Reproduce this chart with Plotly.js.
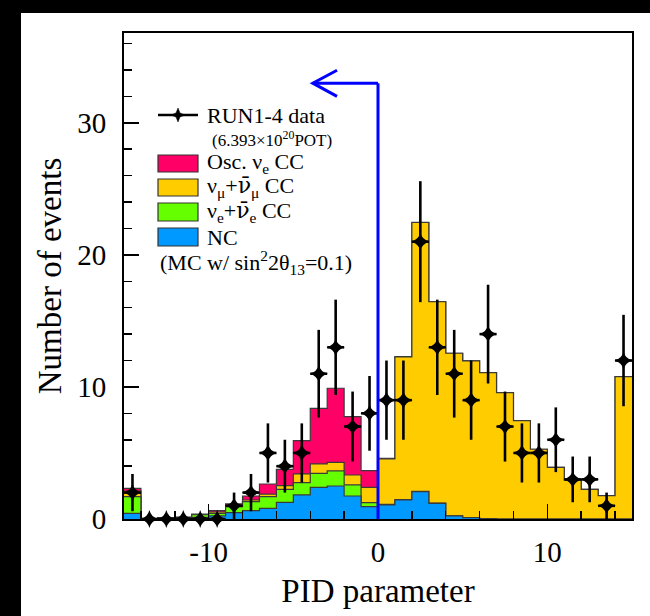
<!DOCTYPE html>
<html><head><meta charset="utf-8">
<script src="https://cdn.plot.ly/plotly-3.0.1.min.js"></script>
<style>
html,body{margin:0;padding:0;background:#000;width:650px;height:616px;overflow:hidden}
#chart{position:absolute;left:21px;top:13px;width:629px;height:603px;background:#fff}
</style></head><body><div id="chart"></div>
<script>
// ---- data ----
const binCenters = [-14.5,-13.5,-12.5,-11.5,-10.5,-9.5,-8.5,-7.5,-6.5,-5.5,-4.5,-3.5,-2.5,-1.5,-0.5,
                     0.5,1.5,2.5,3.5,4.5,5.5,6.5,7.5,8.5,9.5,10.5,11.5,12.5,13.5,14.5];
const binWidth = 1;
const ncEvents      = [0.43,0.00,0.02,0.03,0.12,0.23,0.48,0.63,0.81,1.26,1.82,2.40,2.50,1.74,0.93,
                       1.06,1.44,2.07,1.19,0.23,0.10,0.03,0,0,0,0,0,0,0,0];
const nueBeamEvents = [1.26,0.03,0.08,0.09,0.20,0.20,0.45,0.68,0.88,0.99,0.93,1.06,1.14,0.84,0.31,
                       0.05,0.03,0.02,0.01,0,0,0,0,0,0,0,0,0,0,0];
const numuEvents    = [0.43,0,0,0,0.02,0.10,0.06,0.13,0.20,0.28,0.66,0.71,0.65,0.75,1.16,
                       3.44,10.80,20.36,15.25,12.32,11.87,11.06,9.57,7.45,5.28,3.91,2.95,2.25,1.77,10.78];
const oscNueEvents  = [0.20,0,0,0,0.04,0.10,0.15,0.30,0.76,1.23,2.52,4.21,5.61,4.42,1.26,
                       0.05,0.03,0.02,0.01,0,0,0,0,0,0,0,0,0,0,0];
const dataCounts = [2,0,0,0,0,0,1,2,5,4,5,11,13,7,8,9,9,21,13,11,9,14,7,5,5,6,3,3,1,12];
const dataErrors = [1.41,0,0,0,0,0,1,1.41,2.24,2,2.24,3.32,3.61,2.65,2.83,3,3,4.58,3.61,3.32,3,3.74,2.65,2.24,2.24,2.45,1.73,1.73,1,3.46];
const xTickVals = [-10, 0, 10];
const xTickText = ['-10', '0', '10'];
const yTickVals = [0, 10, 20, 30];
const xRange = [-15, 15];
const yRange = [0, 36.8];
const pidCut = 0;          // selection cut
const cutArrowTop = 33;
const cutArrowTip = -3.85;

const colors = {osc:'#ff0066', numu:'#ffcc00', nue:'#66ff00', nc:'#0099ff', outline:'#3a3a3a', cut:'#0000ff'};
const FONT = 'Liberation Serif, Times New Roman, serif';

// cumulative stacks
function cumulate(...arrs){ return arrs[0].map((_,i)=>arrs.reduce((s,a)=>s+a[i],0)); }
const stackNC   = cumulate(ncEvents);
const stackNue  = cumulate(ncEvents, nueBeamEvents);
const stackNumu = cumulate(ncEvents, nueBeamEvents, numuEvents);
const stackOsc  = cumulate(ncEvents, nueBeamEvents, numuEvents, oscNueEvents);

function stepTrace(vals, fill){
  const x = binCenters.map(c => c - binWidth/2);
  x.push(binCenters[binCenters.length-1] + binWidth/2);
  const y = vals.slice(); y.push(vals[vals.length-1]);
  return {x, y, type:'scatter', mode:'lines', line:{shape:'hv', color:colors.outline, width:1.2},
          fill:'tozeroy', fillcolor:fill, hoverinfo:'skip', showlegend:false};
}

const traces = [
  stepTrace(stackOsc, colors.osc),
  stepTrace(stackNumu, colors.numu),
  stepTrace(stackNue, colors.nue),
  stepTrace(stackNC, colors.nc),
  {x:binCenters, y:dataCounts, type:'scatter', mode:'markers', cliponaxis:false, showlegend:false,
   marker:{symbol:'star-diamond', size:13, color:'#000'},
   error_y:{type:'data', array:dataErrors, visible:true, color:'#000', thickness:2.6, width:0},
   error_x:{type:'constant', value:binWidth/2, visible:true, color:'#000', thickness:2.6, width:0}}
];

// page-pixel -> paper helpers for the legend box
const PL=124, PR=632, PT=33, PB=519;
const px = X => (X-PL)/(PR-PL);
const py = Y => (PB-Y)/(PB-PT);

const shapes = [
  {type:'line', xref:'x', yref:'y', x0:pidCut, x1:pidCut, y0:0, y1:cutArrowTop, line:{color:colors.cut, width:3}},
  {type:'line', xref:'x', yref:'y', x0:pidCut, x1:cutArrowTip, y0:cutArrowTop, y1:cutArrowTop, line:{color:colors.cut, width:3}},
  {type:'path', xref:'x', yref:'y', line:{color:colors.cut, width:3},
   path:`M ${cutArrowTip+1.43} ${cutArrowTop+0.98} L ${cutArrowTip} ${cutArrowTop} L ${cutArrowTip+1.43} ${cutArrowTop-1.0}`},
  // legend: data symbol
  {type:'line', xref:'paper', yref:'paper', x0:px(158), x1:px(198), y0:py(115), y1:py(115), line:{color:'#000', width:2.6}},
  {type:'path', xref:'paper', yref:'paper', fillcolor:'#000', line:{color:'#000', width:0.5},
   path:`M ${px(178)} ${py(108)} L ${px(180)} ${py(113)} L ${px(185)} ${py(115)} L ${px(180)} ${py(117)} L ${px(178)} ${py(122)} L ${px(176)} ${py(117)} L ${px(171)} ${py(115)} L ${px(176)} ${py(113)} Z`},
];
const legendBoxes = [[155,172,colors.osc],[179,196,colors.numu],[203,221,colors.nue],[228,246,colors.nc]];
legendBoxes.forEach(([t,b,c])=>shapes.push({type:'rect', xref:'paper', yref:'paper', x0:px(158), x1:px(198), y0:py(b), y1:py(t),
  fillcolor:c, line:{color:'#333', width:1.2}}));

const ann = (X,Y,text,size)=>({xref:'paper', yref:'paper', x:px(X), y:py(Y), text, showarrow:false,
  xanchor:'left', yanchor:'middle', font:{family:FONT, size, color:'#000'}});
const nubar = '<span style="font-family:DejaVu Serif">ν̄</span>';
const annotations = [
  ann(205,115,'RUN1-4 data',22),
  ann(210,139,'(6.393×10<sup>20</sup>POT)',17),
  ann(205,163,'Osc. ν<sub>e</sub> CC',22),
  ann(205,187,'ν<sub>μ</sub>+'+nubar+'<sub>μ</sub> CC',22),
  ann(205,212,'ν<sub>e</sub>+'+nubar+'<sub>e</sub> CC',22),
  ann(205,237,'NC',22),
  ann(158,262,'(MC w/ sin<sup>2</sup>2θ<sub>13</sub>=0.1)',22),
];

const axisCommon = {showgrid:false, zeroline:false, showline:true, linecolor:'#000', linewidth:2, mirror:true,
  ticks:'inside', ticklen:15, tickwidth:1.5, tickcolor:'#000',
  tickfont:{family:FONT, size:29, color:'#000'}};

const layout = {
  width:629, height:603, margin:{l:103, r:18, t:20, b:97},
  paper_bgcolor:'#fff', plot_bgcolor:'#fff', showlegend:false,
  xaxis:Object.assign({}, axisCommon, {range:xRange, tickmode:'array', tickvals:xTickVals, ticktext:xTickText, ticklabelstandoff:6,
    minor:{dtick:2, tick0:0, ticks:'inside', ticklen:8, tickwidth:1.5, tickcolor:'#000'},
    title:{text:'PID parameter', font:{family:FONT, size:33, color:'#000'}, standoff:12}}),
  yaxis:Object.assign({}, axisCommon, {range:yRange, tickmode:'array', tickvals:yTickVals, ticklabelstandoff:10,
    minor:{dtick:2, tick0:0, ticks:'inside', ticklen:8, tickwidth:1.5, tickcolor:'#000'},
    title:{text:'Number of events', font:{family:FONT, size:33, color:'#000'}, standoff:6}}),
  shapes, annotations
};
Plotly.newPlot('chart', traces, layout, {staticPlot:true, displayModeBar:false});
</script></body></html>
